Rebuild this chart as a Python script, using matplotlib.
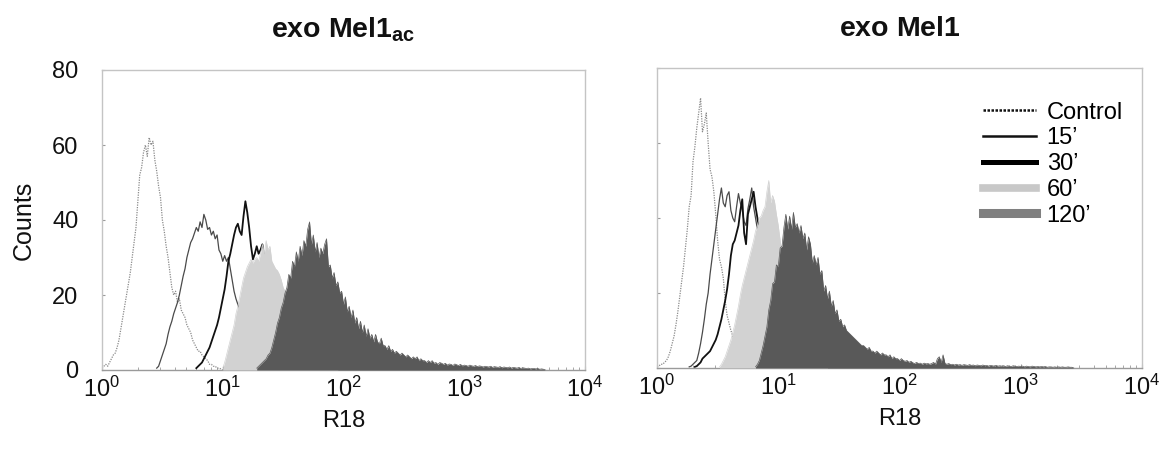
import numpy as np
import matplotlib
matplotlib.use("Agg")
import matplotlib.pyplot as plt
from matplotlib.lines import Line2D

plt.rcParams['font.family'] = ['Liberation Sans', 'DejaVu Sans']
plt.rcParams['mathtext.fontset'] = 'custom'
plt.rcParams['mathtext.rm'] = 'Liberation Sans'
plt.rcParams['mathtext.bf'] = 'Liberation Sans:bold'
plt.rcParams['mathtext.it'] = 'Liberation Sans:italic'

# Histogram channels: 64 channels per decade of R18 fluorescence (256 over 4 decades)
CHANNELS_PER_DECADE = 64

panel_titles = [r'$\mathbf{exo\ Mel1_{ac}}$', r'$\mathbf{exo\ Mel1}$']
series_labels = ['Control', '15\u2019', '30\u2019', '60\u2019', '120\u2019']
y_ticks = [0, 20, 40, 60, 80]
x_ticks = [1, 10, 100, 1000, 10000]

# ---- exo Mel1ac : counts per channel, starting at the given channel ----
ac_control_start = 0
ac_control = [0.5, 1, 1.5, 1, 2, 3, 4, 4.5, 6, 8, 11, 14, 17, 20, 23, 26,
              30, 34, 38, 45, 52, 54, 58, 60, 57, 62, 60, 61, 56, 53, 49, 46,
              40, 37, 33, 30, 26, 22, 20, 21, 18, 19, 16, 15, 14, 12, 11, 10,
              8, 7, 6, 5, 5, 4, 3.5, 3, 2.5, 1.5, 1.5, 1, 1, 0.5, 0.5, 0.3, 0]

ac_15_start = 29
ac_15 = [0.5, 1, 2.5, 4, 5.5, 7, 9.5, 11.5, 13, 15, 16.5, 18, 20, 22.5, 25, 27,
         30, 32, 34, 35, 36.5, 38, 37, 39.5, 38, 41.5, 40, 37.5, 38, 36, 37, 35,
         36, 32, 31, 29, 30.5, 29, 30, 27, 24, 21, 19, 17.5, 16, 15, 14, 13,
         12, 11, 10, 9, 8.5, 8, 7, 6.5, 6, 5, 4.5, 4, 3.5, 3, 2.5, 2, 2, 1.5,
         1.5, 1, 1, 0.5, 0.5, 0.3]

ac_30_start = 50
ac_30 = [0.5, 1, 1.5, 2, 3, 4, 5, 6, 7.5, 9, 10.5, 12, 14, 16.5, 19, 21.5,
         25, 29, 31, 33.5, 36, 38, 39, 37, 36, 41, 45, 42, 38, 33, 29.5, 31,
         33, 31, 32, 33.5, 30, 28, 27, 25, 23, 21, 20, 18, 16, 15, 13, 12,
         10.5, 9, 8, 7, 6, 5, 4.5, 4, 3, 2.5, 2, 1.5, 1, 1, 0.5, 0.5, 0.3]

ac_60_start = 64
ac_60 = [0.5, 2, 4, 6, 8, 10, 12, 15, 17, 19.5, 22, 24.5, 26, 27.5, 28.5, 29.5,
         28.5, 29.5, 30, 29, 31, 33.5, 31, 34.5, 32, 33, 29, 28, 27, 26.5, 25.5, 24,
         22, 21, 20, 17, 15, 13.5, 12, 11, 10, 9, 8, 7, 6, 5.5, 5, 4.5,
         4, 3.5, 3, 3, 2.5, 2, 2, 1.5, 1.5, 1, 1, 0.5, 0.5, 0.3]

ac_120_start = 82
ac_120 = [0.5, 1, 1.5, 2, 2.5, 3, 4, 4.5, 6, 8, 10, 12.5, 14, 16.5, 18, 20.5,
          22, 25.5, 24.5, 29, 27.5, 31.5, 29, 33, 30.5, 34.5, 33, 37.5, 39.5, 33.5, 36, 31.5,
          34, 30, 32.5, 31, 33.5, 35, 27.5, 28, 24.5, 26, 22.5, 23.5, 20.5, 21, 17.5, 19.5,
          15.5, 17, 14, 16, 12.5, 14, 11, 13, 10, 12, 9, 11, 8.5, 9.5, 7.5, 9.5,
          7.5, 7, 8.5, 6.5, 6.5, 5.5, 6.5, 5, 5.5, 4.5, 5, 4.5, 4, 4.5, 4, 3.5,
          4, 3.5, 3, 3.5, 3, 3.5, 2.5, 3, 2.5, 2.5, 2, 2.5, 2, 2.5, 1.8, 2,
          1.5, 2, 1.8, 1.5, 1.8, 1.3, 1.6, 1.5, 1.2, 1.6, 1.4, 1.2, 1.5, 1.1, 1.3, 1.2,
          1, 1.3, 1.1, 1, 1.2, 0.9, 1.1, 1, 0.8, 1, 0.9, 0.8, 1, 0.7, 0.9, 0.8,
          0.7, 0.9, 0.6, 0.8, 0.7, 0.6, 0.8, 0.5, 0.7, 0.6, 0.5, 0.7, 0.4, 0.6, 0.5, 0.4,
          0.5, 0.3, 0.4, 0.4, 0.3, 0.4, 0.2, 0.3, 0.2, 0]

# ---- exo Mel1 ----
m1_control_start = 0
m1_control = [0.3, 0.5, 1, 1, 1.5, 2, 3, 4.5, 6.5, 8.5, 11.5, 15, 19, 23, 27, 32,
              37, 43, 46, 55, 59, 64, 68, 72, 63, 65, 68, 60, 53, 51, 47, 41,
              34, 29, 27, 24, 18, 14, 12, 10, 8.5, 7, 5.5, 4, 3.5, 2.5, 2, 1,
              1, 0.5, 0.5, 0.3, 0]

m1_15_start = 17
m1_15 = [0.3, 0.5, 1, 1.5, 2, 4, 6.5, 9.5, 13, 17, 20, 25, 29, 33, 37, 41,
         45, 48, 44, 43, 46, 47, 42, 40, 39, 43, 46.5, 44, 42, 39, 38, 42.5,
         45, 48, 43, 40, 37, 37.5, 39, 36, 34, 32, 30, 28, 26.5, 25, 23, 21,
         19, 17, 15, 13, 11.5, 10, 9, 8, 7, 6, 5, 4.5, 3.5, 3, 2.5, 2,
         1.5, 1, 1, 0.5, 0.3]

m1_30_start = 20
m1_30 = [0.3, 0.5, 1, 1.5, 2.5, 3, 3.5, 4, 4.5, 5.5, 6.5, 7.5, 9, 11, 13, 15.5,
         18, 21, 25, 30, 33, 34, 36, 38, 42, 45, 36, 33, 41, 43, 45, 47,
         43, 40, 37, 39, 40, 37, 36, 34.5, 33, 31.5, 30, 28, 26, 24, 22, 20,
         18, 16, 14, 12.5, 11, 9.5, 8, 7, 6, 5, 4, 3.5, 3, 2.5, 2, 1.5,
         1, 1, 0.5, 0.5, 0.3, 0.3, 0]

m1_60_start = 33
m1_60 = [0.3, 1, 2, 3, 4.5, 6, 7.5, 9.5, 11.5, 14, 16.5, 19.5, 22, 24, 26, 28,
         30, 32, 34, 36.5, 38, 40, 40.5, 42, 43, 47, 50, 44, 46, 44.5, 41, 38,
         34, 30, 27, 24, 21, 19, 17, 15, 13, 11.5, 10, 9, 8, 7, 6, 5,
         4, 3.5, 3, 2.5, 2, 1.5, 1, 1, 0.5, 0.3]

m1_120_start = 52
m1_120 = [0.3, 1, 2, 4, 6, 8.5, 11, 15.5, 18, 22.5, 23, 27.5, 27, 32, 32.5, 37.5,
          41, 37, 40.5, 37, 41.5, 37.5, 38.5, 36, 38, 34.5, 36, 31.5, 35, 33, 28, 30,
          27.5, 29.5, 25, 26, 20.5, 22, 18.5, 20.5, 16.5, 18, 14.5, 15.5, 12.5, 13, 11, 11.5,
          10, 9.5, 9, 8.5, 8, 7.5, 7, 6.5, 6, 6, 5.5, 5, 5.5, 4.5, 4.5, 4,
          4.5, 4, 3.5, 4, 3.5, 3.5, 3, 3.5, 2.5, 3, 2.5, 2.5, 2, 2.5, 2, 1.8,
          2, 1.5, 1.8, 1.4, 1.2, 1.5, 1.2, 1.3, 1, 1.3, 1.1, 1.2, 1, 1.2, 1.5, 1,
          2.5, 3, 1.5, 3.5, 1.2, 1, 1.2, 0.9, 1, 0.8, 1, 0.8, 0.9, 0.7, 0.9, 0.8,
          0.7, 0.9, 0.7, 0.8, 0.6, 0.8, 0.7, 0.6, 0.8, 0.6, 0.7, 0.5, 0.7, 0.6, 0.5, 0.7,
          0.5, 0.6, 0.5, 0.6, 0.4, 0.6, 0.5, 0.4, 0.6, 0.5, 0.4, 0.5, 0.4, 0.5, 0.3, 0.5,
          0.4, 0.3, 0.5, 0.4, 0.3, 0.4, 0.3, 0.4, 0.3, 0.4, 0.2, 0.3, 0.3, 0.2, 0.3, 0.2,
          0.3, 0.2, 0.3, 0.2, 0.2, 0.3, 0.2, 0.2, 0]

panels = [
    [(ac_control_start, ac_control), (ac_15_start, ac_15), (ac_30_start, ac_30),
     (ac_60_start, ac_60), (ac_120_start, ac_120)],
    [(m1_control_start, m1_control), (m1_15_start, m1_15), (m1_30_start, m1_30),
     (m1_60_start, m1_60), (m1_120_start, m1_120)],
]

line_styles = [
    dict(color='#8a8a8a', lw=0.9, ls=(0, (1, 1))),
    dict(color='#4a4a4a', lw=0.9, ls='-'),
    dict(color='#111111', lw=1.3, ls='-'),
]
fill_colors = ['#d2d2d2', '#595959']


def channel_values(start, counts):
    ch = np.arange(start, start + len(counts))
    return 10.0 ** (ch / CHANNELS_PER_DECADE), np.asarray(counts, dtype=float)


fig = plt.figure(figsize=(11.68, 4.5), dpi=100)
axes = [fig.add_axes([102 / 1168, 80 / 450, 483 / 1168, 300 / 450]),
        fig.add_axes([657 / 1168, 82 / 450, 485 / 1168, 300 / 450])]

for i, (ax, series) in enumerate(zip(axes, panels)):
    for (start, counts), style in zip(series[:3], line_styles):
        x, y = channel_values(start, counts)
        ax.plot(x, y, zorder=2, **style)
    for (start, counts), col in zip(series[3:], fill_colors):
        x, y = channel_values(start, counts)
        ax.fill_between(x, 0, y, color=col, lw=0, zorder=3)
        ax.plot(x, y, color=col, lw=0.5, zorder=3)

    ax.set_xscale('log')
    ax.set_xlim(x_ticks[0], x_ticks[-1])
    ax.set_ylim(y_ticks[0], y_ticks[-1])
    ax.set_xticks(x_ticks)
    ax.set_yticks(y_ticks)
    ax.tick_params(axis='both', which='both', direction='in', color='#9a9a9a',
                   labelsize=17, labelcolor='#111111')
    ax.tick_params(axis='x', which='major', length=3, pad=5)
    ax.tick_params(axis='x', which='minor', length=2)
    ax.tick_params(axis='y', which='major', length=2, pad=17)
    ax.set_xlabel('R18', fontsize=17, labelpad=6, color='#111111')
    for side, sp in ax.spines.items():
        sp.set_color('#c4c4c4' if side != 'bottom' else '#9a9a9a')
        sp.set_linewidth(1.0)
    ax.text(0.5, 1.108, panel_titles[i], transform=ax.transAxes, ha='center',
            va='baseline', fontsize=20.5, color='#111111')

axes[0].set_ylabel('Counts', fontsize=18, labelpad=12, color='#111111')
axes[1].tick_params(axis='y', labelleft=False)

legend_handles = [
    Line2D([], [], color='#111111', lw=1.8, ls=(0, (1, 0.6))),
    Line2D([], [], color='#111111', lw=1.8),
    Line2D([], [], color='#000000', lw=3.6),
    Line2D([], [], color='#c8c8c8', lw=5.5),
    Line2D([], [], color='#808080', lw=6.5),
]
axes[1].legend(legend_handles, series_labels, loc='upper left',
               bbox_to_anchor=(0.672, 0.888), frameon=False, fontsize=17,
               handlelength=2.25, handletextpad=0.45, labelspacing=0.16,
               borderpad=0, borderaxespad=0)

fig.savefig('out.png', dpi=100)
